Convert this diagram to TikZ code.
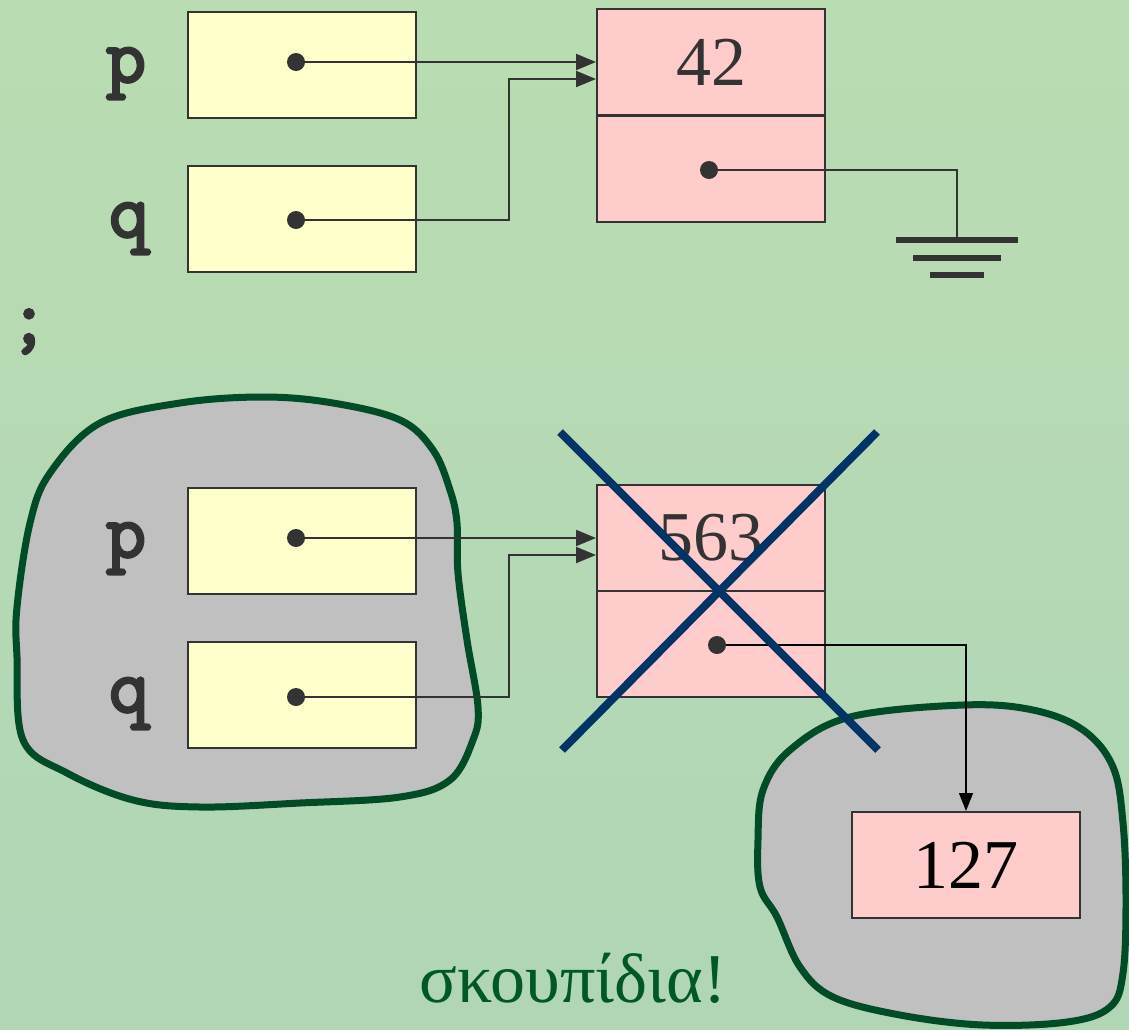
\documentclass[tikz,border=0pt]{standalone}
\usepackage{fontspec}
\setmainfont{Liberation Serif}
\newfontfamily\codefont{Latin Modern Mono}[FakeBold=3.5]
\usetikzlibrary{arrows.meta}

\definecolor{bgtop}{RGB}{186,220,178}
\definecolor{bgbot}{RGB}{176,214,182}
\definecolor{boxline}{RGB}{51,51,51}
\definecolor{varyellow}{RGB}{255,255,204}
\definecolor{heappink}{RGB}{255,204,204}
\definecolor{blobgray}{RGB}{192,192,192}
\definecolor{blobline}{RGB}{0,76,38}
\definecolor{crossblue}{RGB}{0,51,102}
\definecolor{garbagegreen}{RGB}{0,88,40}

\begin{document}
\begin{tikzpicture}[x=1pt,y=-1pt,
  cellbox/.style={draw=boxline,line width=2pt,minimum width=228pt,minimum height=106pt,inner sep=0pt,
    font=\fontsize{70}{84}\selectfont},
  varcell/.style={cellbox,fill=varyellow},
  heapcell/.style={cellbox,fill=heappink,text=boxline},
  codelbl/.style={font=\codefont\fontsize{78}{94}\selectfont,text=boxline,inner sep=0pt,anchor=base},
  ptr/.style={draw=boxline,line width=2pt,-{Triangle[length=20pt,width=16pt]}},
  link/.style={draw=boxline,line width=2pt},
  gbar/.style={draw=boxline,line width=6pt},
  blob/.style={fill=blobgray,draw=blobline,line width=7pt},
  crossline/.style={draw=crossblue,line width=8pt}]
\useasboundingbox (0,0) rectangle (1129,1029);
\shade[top color=bgtop,bottom color=bgbot] (0,0) rectangle (1129,1029);

% garbage areas
\draw[blob] plot[smooth cycle,tension=0.6] coordinates {(263,397) (333,403) (400,420) (433,450) (450,490)
  (457,523) (458,573) (467,640) (478,707) (473,740) (450,780) (400,797) (300,803) (200,807) (133,800)
  (67,773) (23,740) (17,657) (17,607) (30,523) (50,473) (100,423) (180,403)};
\draw[blob] plot[smooth cycle,tension=0.6] coordinates {(963,705) (1033,710) (1083,730) (1113,767)
  (1123,823) (1126,900) (1123,973) (1110,1007) (1067,1022) (983,1025) (900,1015) (833,997) (800,967)
  (777,917) (760,887) (758,840) (763,790) (790,750) (850,717)};

% before
\node[varcell] (p1) at (302,64.5) {};
\node[varcell] (q1) at (302,218.5) {};
\node[codelbl] (pl1) at (126,82) {p};
\node[codelbl] (ql1) at (129,237) {q};
\node[heapcell] (n1v) at (711,62) {42};
\node[heapcell] (n1n) at (711,168.5) {};
\coordinate (p1d) at (296,62);
\coordinate (q1d) at (296,220);
\coordinate (n1d) at (709,170);
\coordinate (j1) at (509,79);
\coordinate (g1) at (957,240);
\draw[ptr] (p1d) -- (p1d -| n1v.west);
\draw[ptr] (q1d) -| (j1) -- (j1 -| n1v.west);
\draw[link] (n1d) -| (g1);
\foreach \w/\dy in {61/0,44/18,27/35}
  \draw[gbar] ([shift={(-\w,\dy)}]g1) -- ([shift={(\w,\dy)}]g1);
\foreach \d in {p1d,q1d,n1d}
  \fill[boxline] (\d) circle (9pt);

\node[codelbl] (stmt) at (29,343) {;};

% after
\node[varcell] (p2) at (302,540.5) {};
\node[varcell] (q2) at (302,694.5) {};
\node[codelbl] (pl2) at (126,557) {p};
\node[codelbl] (ql2) at (129,712) {q};
\node[heapcell] (n2v) at (711,538) {563};
\node[heapcell] (n2n) at (711,644) {};
\node[heapcell,text=black] (n3) at (966,865) {127};
\coordinate (p2d) at (296,538);
\coordinate (q2d) at (296,697);
\coordinate (n2d) at (717,645);
\coordinate (j2) at (509,555);
\draw[ptr] (p2d) -- (p2d -| n2v.west);
\draw[ptr] (q2d) -| (j2) -- (j2 -| n2v.west);
\draw[line width=1.5pt,-{Triangle[length=18pt,width=14pt]}] (n2d) -| (n3.north);
\foreach \d in {p2d,q2d,n2d}
  \fill[boxline] (\d) circle (9pt);

\coordinate (xa) at (560,432);
\coordinate (xb) at (878,750);
\coordinate (xc) at (877,432);
\coordinate (xd) at (562,750);
\draw[crossline] (xa) -- (xb);
\draw[crossline] (xc) -- (xd);

\node[font=\fontsize{70}{84}\selectfont,text=garbagegreen,anchor=base] (garbage) at (573,1002) {σκουπίδια!};
\end{tikzpicture}
\end{document}
